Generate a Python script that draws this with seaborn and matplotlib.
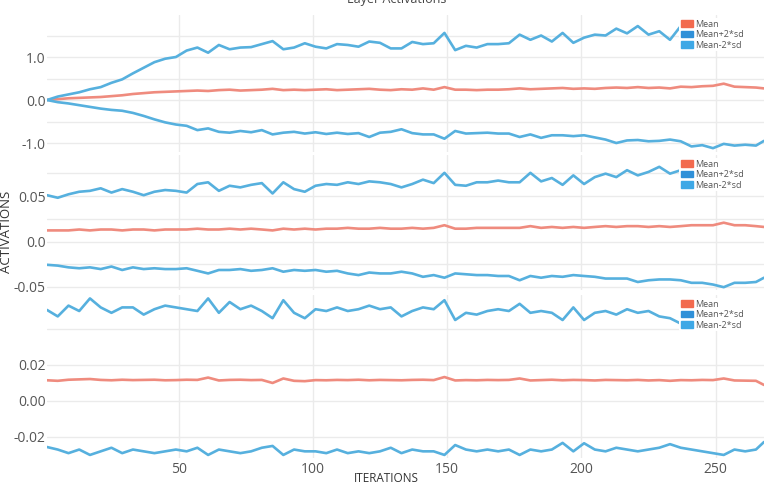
import matplotlib
matplotlib.use('Agg')
import matplotlib.pyplot as plt
from matplotlib.patches import Patch
import pandas as pd
import seaborn as sns

sns.set_style('white')
plt.rcParams['font.family'] = ['Open Sans', 'DejaVu Sans']

# iterations sampled every 4 steps
iterations = list(range(1, 266, 4)) + [268]

# layer 1
l1_mean = [0.0, 0.02, 0.04, 0.05, 0.06, 0.07, 0.09, 0.11, 0.14, 0.16,
           0.18, 0.19, 0.20, 0.21, 0.22, 0.21, 0.23, 0.24, 0.22, 0.23,
           0.24, 0.26, 0.23, 0.24, 0.23, 0.24, 0.25, 0.23, 0.24, 0.25,
           0.26, 0.24, 0.23, 0.25, 0.24, 0.27, 0.24, 0.30, 0.24, 0.24,
           0.23, 0.24, 0.24, 0.25, 0.27, 0.25, 0.26, 0.27, 0.28, 0.26,
           0.27, 0.26, 0.28, 0.29, 0.28, 0.30, 0.28, 0.29, 0.27, 0.31,
           0.30, 0.32, 0.33, 0.38, 0.31, 0.30, 0.29, 0.27]
l1_upper = [0.0, 0.08, 0.13, 0.18, 0.25, 0.30, 0.40, 0.48, 0.62, 0.75,
            0.88, 0.96, 1.00, 1.15, 1.22, 1.10, 1.28, 1.18, 1.22, 1.23,
            1.30, 1.37, 1.18, 1.22, 1.32, 1.24, 1.20, 1.30, 1.28, 1.24,
            1.36, 1.33, 1.20, 1.20, 1.35, 1.30, 1.32, 1.56, 1.16, 1.26,
            1.22, 1.30, 1.30, 1.32, 1.52, 1.40, 1.50, 1.36, 1.56, 1.33,
            1.45, 1.52, 1.50, 1.66, 1.55, 1.72, 1.52, 1.60, 1.40, 1.72,
            1.65, 1.62, 1.70, 1.66, 1.60, 1.68, 1.62, 1.66]
l1_lower = [0.0, -0.05, -0.08, -0.12, -0.16, -0.20, -0.23, -0.25, -0.30, -0.37,
            -0.45, -0.52, -0.57, -0.60, -0.70, -0.66, -0.74, -0.76, -0.72, -0.75,
            -0.70, -0.80, -0.76, -0.74, -0.78, -0.75, -0.79, -0.76, -0.79, -0.77,
            -0.86, -0.76, -0.74, -0.68, -0.77, -0.80, -0.80, -0.90, -0.72, -0.78,
            -0.77, -0.76, -0.78, -0.78, -0.86, -0.80, -0.88, -0.82, -0.82, -0.84,
            -0.82, -0.87, -0.92, -1.00, -0.94, -0.93, -0.96, -0.95, -0.92, -0.96,
            -1.08, -1.05, -1.12, -1.02, -1.06, -1.04, -1.06, -0.95]

# layer 2
l2_mean = [0.0122, 0.0122, 0.0122, 0.0132, 0.0122, 0.0132, 0.0132, 0.0122, 0.0132, 0.0132,
           0.0122, 0.0132, 0.0132, 0.0132, 0.0141, 0.0132, 0.0132, 0.0141, 0.0132, 0.0141,
           0.0132, 0.0122, 0.0141, 0.0132, 0.0141, 0.0132, 0.0141, 0.0141, 0.0150, 0.0141,
           0.0141, 0.0150, 0.0141, 0.0141, 0.0150, 0.0141, 0.0150, 0.0179, 0.0141, 0.0141,
           0.0150, 0.0150, 0.0150, 0.0150, 0.0150, 0.0169, 0.0150, 0.0160, 0.0150, 0.0160,
           0.0150, 0.0160, 0.0169, 0.0160, 0.0169, 0.0169, 0.0160, 0.0169, 0.0160, 0.0169,
           0.0179, 0.0179, 0.0179, 0.0207, 0.0179, 0.0179, 0.0169, 0.0160]
l2_upper = [0.0509, 0.0481, 0.0519, 0.0547, 0.0557, 0.0585, 0.0538, 0.0576, 0.0547, 0.0509,
            0.0547, 0.0566, 0.0557, 0.0538, 0.0632, 0.0651, 0.0557, 0.0613, 0.0595, 0.0623,
            0.0642, 0.0528, 0.0651, 0.0576, 0.0547, 0.0613, 0.0632, 0.0623, 0.0651, 0.0632,
            0.0661, 0.0651, 0.0632, 0.0595, 0.0632, 0.0680, 0.0642, 0.0755, 0.0623, 0.0613,
            0.0651, 0.0651, 0.0670, 0.0651, 0.0651, 0.0755, 0.0661, 0.0698, 0.0623, 0.0727,
            0.0632, 0.0708, 0.0746, 0.0708, 0.0784, 0.0727, 0.0765, 0.0821, 0.0746, 0.0784,
            0.0765, 0.0802, 0.0784, 0.0802, 0.0812, 0.0793, 0.0821, 0.0802]
l2_lower = [-0.0256, -0.0265, -0.0284, -0.0294, -0.0284, -0.0303, -0.0275, -0.0313, -0.0284, -0.0303,
            -0.0294, -0.0303, -0.0303, -0.0294, -0.0322, -0.0351, -0.0313, -0.0313, -0.0303, -0.0322,
            -0.0313, -0.0294, -0.0332, -0.0313, -0.0322, -0.0313, -0.0332, -0.0322, -0.0351, -0.0369,
            -0.0341, -0.0351, -0.0351, -0.0332, -0.0351, -0.0388, -0.0369, -0.0398, -0.0351, -0.0360,
            -0.0369, -0.0369, -0.0379, -0.0379, -0.0426, -0.0379, -0.0398, -0.0379, -0.0388, -0.0369,
            -0.0379, -0.0388, -0.0407, -0.0407, -0.0407, -0.0445, -0.0426, -0.0417, -0.0417, -0.0426,
            -0.0454, -0.0454, -0.0473, -0.0502, -0.0454, -0.0454, -0.0445, -0.0398]

# layer 3
l3_mean = [0.0115, 0.0112, 0.0118, 0.0120, 0.0122, 0.0117, 0.0115, 0.0118, 0.0116, 0.0117,
           0.0118, 0.0115, 0.0116, 0.0118, 0.0117, 0.0130, 0.0114, 0.0117, 0.0118, 0.0116,
           0.0117, 0.0100, 0.0125, 0.0112, 0.0110, 0.0116, 0.0115, 0.0117, 0.0116, 0.0118,
           0.0115, 0.0117, 0.0116, 0.0115, 0.0117, 0.0118, 0.0116, 0.0133, 0.0114, 0.0116,
           0.0115, 0.0117, 0.0116, 0.0117, 0.0125, 0.0114, 0.0116, 0.0118, 0.0115, 0.0117,
           0.0116, 0.0114, 0.0117, 0.0116, 0.0115, 0.0117, 0.0114, 0.0116, 0.0112, 0.0116,
           0.0115, 0.0117, 0.0116, 0.0125, 0.0114, 0.0113, 0.0112, 0.0089]
l3_upper = [0.0506, 0.0470, 0.0530, 0.0500, 0.0570, 0.0520, 0.0490, 0.0520, 0.0520, 0.0480,
            0.0510, 0.0530, 0.0520, 0.0510, 0.0500, 0.0570, 0.0490, 0.0550, 0.0510, 0.0530,
            0.0500, 0.0460, 0.0560, 0.0490, 0.0460, 0.0510, 0.0500, 0.0520, 0.0500, 0.0510,
            0.0530, 0.0510, 0.0520, 0.0470, 0.0500, 0.0520, 0.0510, 0.0560, 0.0450, 0.0490,
            0.0480, 0.0500, 0.0510, 0.0500, 0.0540, 0.0490, 0.0500, 0.0490, 0.0450, 0.0520,
            0.0450, 0.0490, 0.0500, 0.0480, 0.0510, 0.0490, 0.0500, 0.0470, 0.0460, 0.0430,
            0.0480, 0.0500, 0.0490, 0.0500, 0.0480, 0.0500, 0.0490, 0.0500]
l3_lower = [-0.0256, -0.0270, -0.0290, -0.0270, -0.0300, -0.0280, -0.0260, -0.0290, -0.0270, -0.0280,
            -0.0290, -0.0280, -0.0270, -0.0280, -0.0260, -0.0300, -0.0270, -0.0280, -0.0290, -0.0280,
            -0.0260, -0.0250, -0.0300, -0.0270, -0.0280, -0.0280, -0.0290, -0.0270, -0.0290, -0.0280,
            -0.0290, -0.0280, -0.0260, -0.0290, -0.0270, -0.0280, -0.0280, -0.0300, -0.0245, -0.0270,
            -0.0280, -0.0270, -0.0280, -0.0270, -0.0300, -0.0270, -0.0280, -0.0270, -0.0233, -0.0280,
            -0.0235, -0.0270, -0.0280, -0.0260, -0.0270, -0.0280, -0.0270, -0.0260, -0.0240, -0.0260,
            -0.0270, -0.0280, -0.0290, -0.0300, -0.0270, -0.0280, -0.0270, -0.0228]

series_names = ['Mean', 'Mean+2*sd', 'Mean-2*sd']
line_colors = {'Mean': '#ef8b7e', 'Mean+2*sd': '#56b0de', 'Mean-2*sd': '#56b0de'}
legend_colors = ['#f26a4e', '#2f90d8', '#3ea8e6']

panels = [
    ([l1_mean, l1_upper, l1_lower], (-1.209, 1.977), [-1.0, -0.5, 0.0, 0.5, 1.0, 1.5],
     ['-1.0', '', '0.0', '', '1.0', '']),
    ([l2_mean, l2_upper, l2_lower], (-0.0533, 0.0951), [-0.05, -0.025, 0.0, 0.025, 0.05, 0.075],
     ['-0.05', '', '0.0', '', '0.05', '']),
    ([l3_mean, l3_upper, l3_lower], (-0.0317, 0.0589), [-0.02, 0.0, 0.02, 0.04],
     ['-0.02', '0.00', '0.02', '']),
]
# axes boxes in pixels: (top, bottom)
boxes = [(15, 152), (155, 290), (295, 458)]

W, H = 774, 488
fig = plt.figure(figsize=(W / 100, H / 100), dpi=100)

for i, ((vals, ylim, yt, ytl), (top, bot)) in enumerate(zip(panels, boxes)):
    ax = fig.add_axes([47 / W, (H - bot) / H, 717 / W, (bot - top) / H])
    ax.set_facecolor('none')
    df = pd.DataFrame({'iteration': iterations * 3,
                       'value': vals[0] + vals[1] + vals[2],
                       'series': sum([[n] * len(iterations) for n in series_names], [])})
    sns.lineplot(data=df, x='iteration', y='value', hue='series', hue_order=series_names,
                 palette=line_colors, linewidth=1.9, legend=False, ax=ax, zorder=3)
    for ln in ax.get_lines():
        ln.set_solid_joinstyle('round')
    ax.set_xlim(1, 268)
    ax.set_ylim(*ylim)
    ax.set_yticks(yt)
    ax.set_yticklabels(ytl)
    ax.set_xticks([50, 100, 150, 200, 250])
    ax.grid(True, color='#ebebeb', linewidth=1)
    ax.set_axisbelow(True)
    for s in ax.spines.values():
        s.set_visible(False)
    ax.tick_params(length=0, labelsize=10, labelcolor='#555555')
    ax.tick_params(axis='y', pad=1)
    ax.tick_params(axis='x', pad=3)
    ax.set_xlabel('')
    ax.set_ylabel('')
    if i < 2:
        ax.set_xticklabels([])
    handles = [Patch(color=c) for c in legend_colors]
    leg = ax.legend(handles, series_names, loc='upper left',
                    bbox_to_anchor=(679 / W, (H - top - 3) / H, 90 / W, 0),
                    bbox_transform=fig.transFigure, mode='expand',
                    frameon=True, facecolor='white', edgecolor='none', framealpha=1,
                    fontsize=6.5, handlelength=1.3, handleheight=0.7, handletextpad=0.3,
                    labelspacing=0.15, borderpad=0.2, borderaxespad=0)
    for t in leg.get_texts():
        t.set_color('#555555')
    leg.set_zorder(10)

fig.text(397 / W, 1.0, 'Layer Activations', ha='center', va='center', fontsize=9, color='#444444')
fig.text(7 / W, (H - 232) / H, 'ACTIVATIONS', rotation=90, ha='center', va='center',
         fontsize=9.5, color='#333333')
fig.text(386 / W, (H - 478) / H, 'ITERATIONS', ha='center', va='center', fontsize=8.5, color='#333333')

fig.savefig('out.png', dpi=100)
